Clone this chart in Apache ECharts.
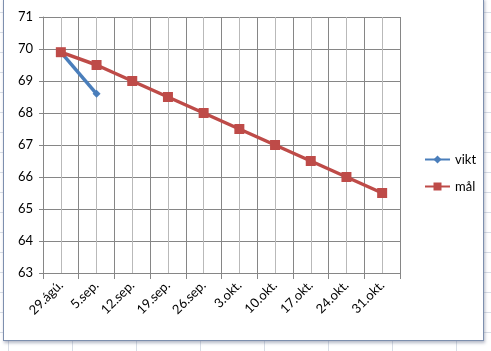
<!DOCTYPE html>
<html>
<head>
<meta charset="utf-8">
<script src="https://cdn.jsdelivr.net/npm/echarts@6/dist/echarts.min.js"></script>
<style>
  html, body { margin:0; padding:0; }
  body {
    width:491px; height:351px; position:relative; overflow:hidden;
    background-color:#fff;
    background-image:
      repeating-linear-gradient(to bottom, transparent 0, transparent 12px, #d8dde6 12px, #d8dde6 13px, transparent 13px, transparent 20px),
      repeating-linear-gradient(to right, transparent 0, transparent 8px, #d8dde6 8px, #d8dde6 9px, transparent 9px, transparent 64px);
  }
  #frame {
    position:absolute; left:3px; top:-2px; width:479px; height:341px;
    background:#fff; border:1px solid #7d8fae;
    box-shadow:1px 2px 3px rgba(90,100,130,0.45);
  }
  #chart { position:absolute; left:0; top:0; width:491px; height:351px; }
</style>
</head>
<body>
<div id="frame"></div>
<div id="chart"></div>
<script>
var dates = ["29.ágú.", "5.sep.", "12.sep.", "19.sep.", "26.sep.", "3.okt.", "10.okt.", "17.okt.", "24.okt.", "31.okt."];
var vikt = [69.9, 68.6, null, null, null, null, null, null, null, null];
var mal = [69.9, 69.5, 69, 68.5, 68, 67.5, 67, 66.5, 66, 65.5];
var yMin = 63, yMax = 71, yStep = 1;

var fontName = "Lato, 'Open Sans', sans-serif";
var myChart = echarts.init(document.getElementById('chart'), null, {renderer: 'canvas'});
var option = {
	backgroundColor: 'transparent',
	animation: false,
	grid: { left: 43, right: 91, top: 17, bottom: 78, containLabel: false },
	legend: {
		orient: 'vertical',
		left: 419,
		top: 148,
		itemWidth: 25,
		itemHeight: 10,
		itemGap: 14,
		textStyle: { fontFamily: fontName, fontSize: 13, color: '#000' },
		data: ['vikt', 'mål']
	},
	xAxis: [
		{
			// half-band helper lines (lighter)
			type: 'value',
			position: 'top',
			min: 0,
			max: 20,
			interval: 1,
			axisLine: { show: false },
			axisTick: { show: false },
			axisLabel: { show: false },
			splitLine: { show: true, lineStyle: { color: '#b9b9b9', width: 1 } }
		},
		{
			type: 'category',
			data: dates,
			boundaryGap: true,
			position: 'bottom',
			axisLine: { lineStyle: { color: '#868686', width: 1 } },
			axisTick: { show: true, interval: 0, length: 6, lineStyle: { color: '#868686' } },
			axisLabel: {
				interval: 0,
				rotate: 45,
				margin: 10,
				fontFamily: fontName,
				fontSize: 13,
				color: '#000'
			},
			splitLine: { show: true, interval: 0, lineStyle: { color: '#868686', width: 1 } }
		}
	],
	yAxis: {
		type: 'value',
		min: yMin,
		max: yMax,
		interval: yStep,
		axisLine: { show: true, lineStyle: { color: '#868686' } },
		axisTick: { show: true, length: 4, lineStyle: { color: '#868686' } },
		axisLabel: { margin: 10, fontFamily: fontName, fontSize: 13, color: '#000' },
		splitLine: { show: true, lineStyle: { color: '#868686', width: 1 } }
	},
	series: [
		{
			name: 'vikt',
			type: 'line',
			xAxisIndex: 1,
			data: vikt,
			connectNulls: false,
			symbol: 'diamond',
			symbolSize: 8,
			color: '#4a7ebb',
			lineStyle: { width: 3.5, color: '#4a7ebb' },
			itemStyle: { color: '#4a7ebb' }
		},
		{
			name: 'mål',
			type: 'line',
			xAxisIndex: 1,
			data: mal,
			symbol: 'rect',
			symbolSize: 10,
			color: '#be4b48',
			lineStyle: { width: 3.5, color: '#be4b48' },
			itemStyle: { color: '#be4b48' }
		}
	]
};
myChart.setOption(option);
</script>
</body>
</html>
